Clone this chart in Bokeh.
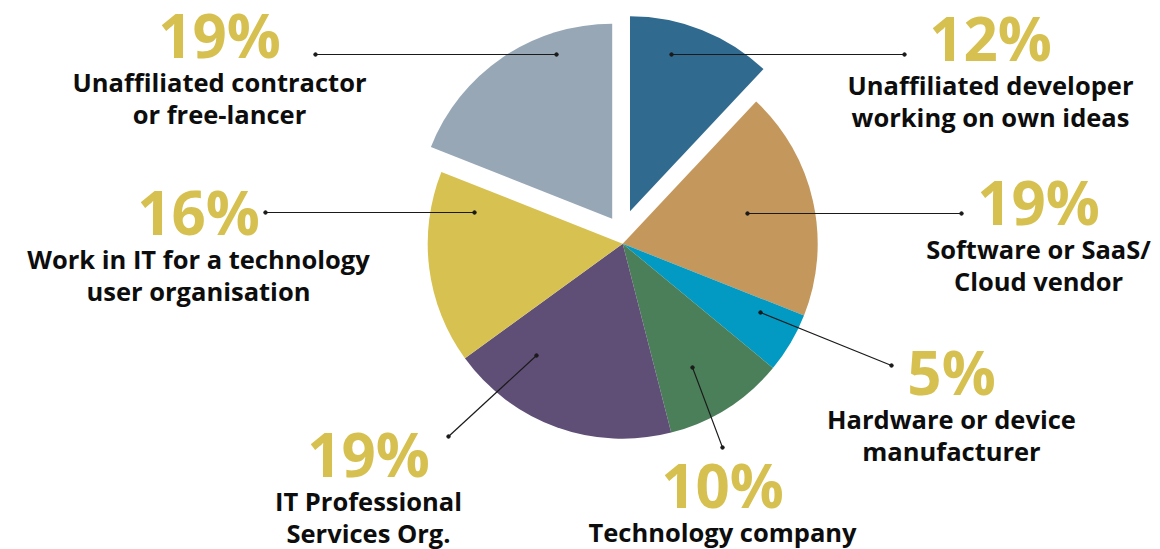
import numpy as np
from bokeh.plotting import figure
from bokeh.models import Range1d
from bokeh.embed import file_html
from bokeh.resources import INLINE
from bokeh.core.properties import value

# ---------------- data ----------------
categories = [
    ["Unaffiliated developer", "working on own ideas"],
    ["Software or SaaS/", "Cloud vendor"],
    ["Hardware or device", "manufacturer"],
    ["Technology company"],
    ["IT Professional", "Services Org."],
    ["Work in IT for a technology", "user organisation"],
    ["Unaffiliated contractor", "or free-lancer"],
]
shares = [12, 19, 5, 10, 19, 16, 19]
colors = ["#306A8F", "#C4975D", "#029AC3", "#4B7F59", "#5F4F76", "#D7C150", "#97A7B6"]

# ---------------- layout / style (reference pixel coords, y down) ----------------
W, H = 1160, 549
FONT = "Open Sans"
PCT_COLOR = "#D6C050"
PCT_SIZE, LBL_SIZE = 60, 25.5
PCT_SHIFT, LBL_SHIFT = 0.39 * PCT_SIZE, 0.44 * LBL_SIZE   # baseline correction
cx_ref, cy_ref, radius = 622.2, 243.2, 195.0
explode_dx = [7.3, 0, 0, 0, 0, 0, -10.5]
explode_dy = [-32.5, 0, 0, 0, 0, 0, -25.0]
label_cx = [990, 1038, 951, 722, 368, 198, 219]
pct_base = [61, 225, 395, 508, 477, 235, 58]
leader_in = [(671, 54), (747, 213), (760, 312), (692, 367), (536, 355), (474, 212), (556, 54)]
leader_out = [(904, 54), (961, 213), (891, 365), (722, 447), (448, 436), (265, 212), (315, 54)]

def Y(yr):
    return H - yr

p = figure(width=W, height=H, output_backend="svg", toolbar_location=None,
           x_range=Range1d(0, W), y_range=Range1d(0, H), min_border=0)
p.axis.visible = False
p.grid.visible = False
p.outline_line_color = None
p.background_fill_color = "white"

frac = np.array(shares, dtype=float) / sum(shares)
cum = np.concatenate([[0], np.cumsum(frac)])
starts = np.pi / 2 - 2 * np.pi * cum[:-1]
ends = np.pi / 2 - 2 * np.pi * cum[1:]
xs = [cx_ref + dx for dx in explode_dx]
ys = [Y(cy_ref + dy) for dy in explode_dy]
p.wedge(x=xs, y=ys, radius=radius, start_angle=list(starts), end_angle=list(ends),
        direction="clock", fill_color=colors, line_color=None)

# leader lines
x0 = [a[0] for a in leader_in]; y0 = [Y(a[1]) for a in leader_in]
x1 = [a[0] for a in leader_out]; y1 = [Y(a[1]) for a in leader_out]
p.segment(x0=x0, y0=y0, x1=x1, y1=y1, line_color="#1a1a1a", line_width=1.2)
p.scatter(x=x0 + x1, y=y0 + y1, size=3.5, color="#1a1a1a", marker="circle")

# percent labels
pct_text = [f"{s}%" for s in shares]
p.text(x=label_cx, y=[Y(b - PCT_SHIFT) for b in pct_base], text=pct_text,
       text_font=value(FONT), text_font_style="bold", text_font_size=f"{PCT_SIZE}px",
       text_color=PCT_COLOR, text_align="center", text_baseline="alphabetic")

# category labels
tx, ty, tt = [], [], []
for i, lines in enumerate(categories):
    for j, line in enumerate(lines):
        tx.append(label_cx[i])
        ty.append(Y(pct_base[i] + 34.5 + 32.5 * j - LBL_SHIFT))
        tt.append(line)
p.text(x=tx, y=ty, text=tt, text_font=value(FONT), text_font_style="bold",
       text_font_size=f"{LBL_SIZE}px", text_color="#0d0d0d", text_align="center",
       text_baseline="alphabetic")

open("out.html", "w").write(file_html(p, INLINE))
